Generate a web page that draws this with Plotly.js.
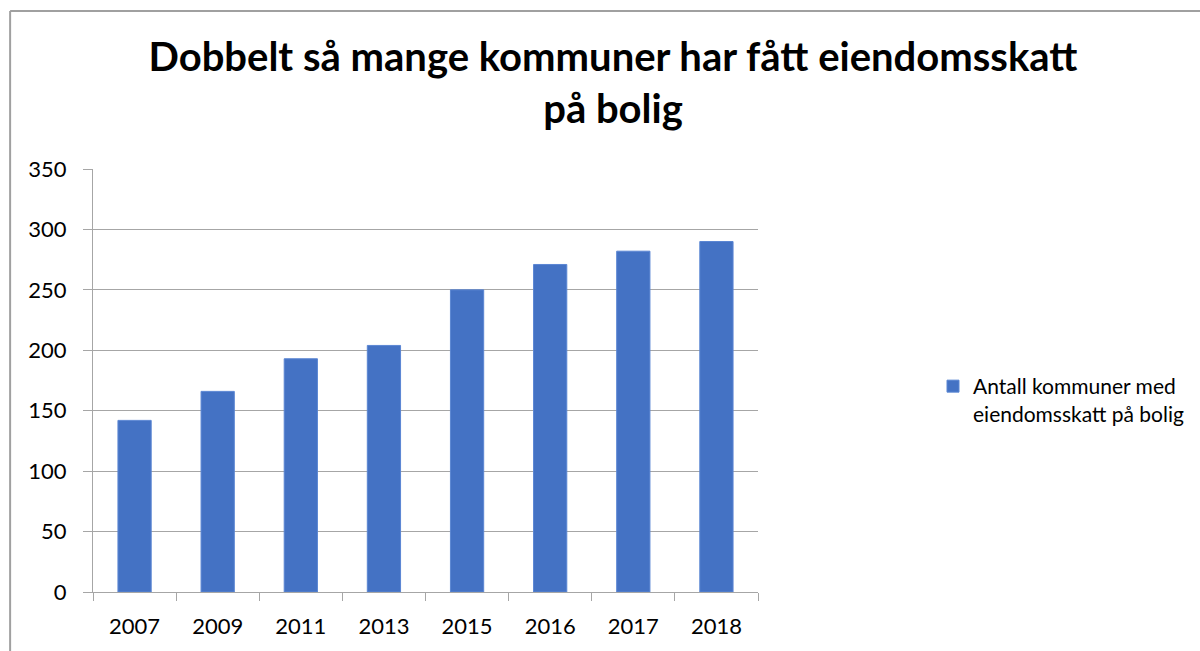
<!DOCTYPE html>
<html>
<head>
<meta charset="utf-8">
<script src="https://cdn.plot.ly/plotly-3.0.1.min.js"></script>
<style>html,body{margin:0;padding:0;background:#fff;}#chart{width:1200px;height:651px;}</style>
</head>
<body>
<div id="chart"></div>
<script>
const years = ["2007", "2009", "2011", "2013", "2015", "2016", "2017", "2018"];
const kommuner = [142, 166, 193, 204, 250, 271, 282, 290];
const seriesName = "Antall kommuner med<br>eiendomsskatt på bolig";
const titleText = "Dobbelt så mange kommuner har fått eiendomsskatt<br>på bolig";
const yTicks = [0, 50, 100, 150, 200, 250, 300, 350];

const W = 1200, H = 651;
const L = 93, R = 759, T = 169, B = 592;
const px = x => (x - L) / (R - L);
const py = y => (B - y) / (B - T);
const grey = "#a6a6a6";

const trace = {
  type: "bar",
  x: years,
  y: kommuner,
  name: seriesName,
  marker: {color: "#4472C4", line: {color: "#5b86d3", width: 1}},
  showlegend: true,
  hoverinfo: "x+y"
};

const layout = {
  width: W, height: H,
  paper_bgcolor: "#fff", plot_bgcolor: "#fff",
  margin: {l: L, r: W - R, t: T, b: H - B, pad: 0},
  font: {family: "Lato, 'Open Sans', sans-serif", color: "#000", size: 22},
  title: {
    text: "<b>" + titleText + "</b>",
    font: {family: "Lato, 'Open Sans', sans-serif", size: 40, color: "#000"},
    x: 613 / W, xref: "container", xanchor: "center",
    y: 1 - 71 / H, yref: "container", yanchor: "middle"
  },
  bargap: 0.6,
  xaxis: {
    type: "category",
    showline: true, linecolor: grey, linewidth: 1,
    ticks: "outside", tickson: "boundaries", ticklen: 8, tickcolor: grey,
    showgrid: false, ticklabelstandoff: 15,
    tickfont: {size: 22}
  },
  yaxis: {
    range: [0, 350], tickvals: yTicks,
    showline: true, linecolor: grey, linewidth: 1,
    ticks: "outside", ticklen: 9, tickcolor: grey,
    showgrid: true, gridcolor: grey, gridwidth: 1,
    zeroline: false, ticklabelstandoff: 12,
    tickfont: {size: 22}
  },
  legend: {
    x: px(933), y: py(366), xanchor: "left", yanchor: "top",
    valign: "top", font: {size: 21}, bgcolor: "rgba(0,0,0,0)"
  },
  shapes: [
    {type: "line", xref: "paper", yref: "paper", x0: px(10), x1: px(10), y0: py(700), y1: py(11), line: {color: "#a0a0a0", width: 2}},
    {type: "line", xref: "paper", yref: "paper", x0: px(10), x1: px(1250), y0: py(11), y1: py(11), line: {color: "#a0a0a0", width: 2}}
  ]
};

Plotly.newPlot("chart", [trace], layout, {displayModeBar: false, staticPlot: true});
</script>
</body>
</html>
